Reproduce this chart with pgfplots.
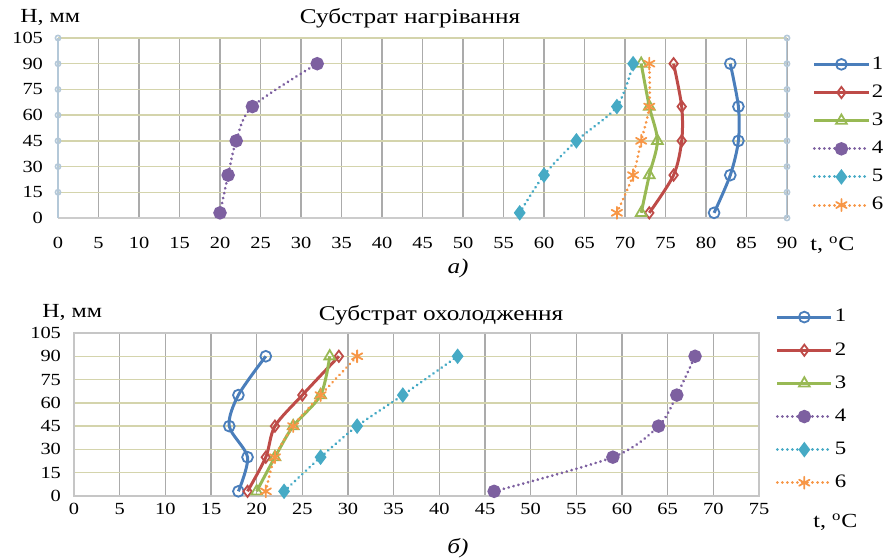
\documentclass[border=0pt]{standalone}
\usepackage{pgfplots}
\pgfplotsset{compat=1.18}
\usepackage{fontspec}
\setmainfont{Liberation Serif}[FakeStretch=1.2]
\definecolor{c1}{HTML}{4A7EBB}
\definecolor{c2}{HTML}{BE4B48}
\definecolor{c3}{HTML}{98B954}
\definecolor{c4}{HTML}{7D60A0}
\definecolor{c5}{HTML}{46AAC5}
\definecolor{c6}{HTML}{F79646}
\definecolor{khaki}{HTML}{D4D4AC}
\definecolor{vgrid}{HTML}{ABABAB}
\definecolor{bluegray}{HTML}{B4C8D8}
\pgfplotsset{
 base/.style={
  scale only axis, anchor=south west,
  ymin=0, ymax=105, ytick={0,15,...,105},
  xmin=0, xtick distance=5,
  grid=major,
  x grid style={color=vgrid, line width=0.8pt},
  y grid style={color=khaki, line width=0.7pt},
  major tick length=0pt,
  tick label style={font=\fontsize{8.5}{10}\selectfont},
  /pgf/number format/assume math mode=true,
  legend cell align=left,
  legend style={draw=none, fill=none, font=\fontsize{9.5}{11.5}\selectfont, anchor=north west, inner sep=0pt, nodes={inner sep=1pt}},
  legend image code/.code={\draw[mark repeat=2,mark phase=2,##1] plot coordinates {(0pt,0pt)(13.5pt,0pt)(27pt,0pt)};},
 },
 s1/.style={c1, line width=1.5pt, smooth, mark=o, mark size=2.7pt, mark options={fill=white, line width=0.9pt}},
 s2/.style={c2, line width=1.5pt, smooth, mark=diamond, mark size=2.8pt, mark options={fill=white, line width=0.9pt}},
 s3/.style={c3, line width=1.5pt, smooth, mark=triangle, mark size=3.1pt, mark options={fill=white, line width=0.9pt}},
 dots/.style={line width=1.5pt, line cap=round, dash pattern=on 0.01pt off 2.5pt},
 s4/.style={c4, dots, smooth, mark=*, mark size=2.6pt, mark options={solid}},
 s5/.style={c5, dots, smooth, mark=diamond*, mark size=2.7pt, mark options={solid}},
 s6/.style={c6, dots, smooth, mark=asterisk, mark size=3pt, mark options={solid, line width=0.9pt}},
}
\begin{document}
\begin{tikzpicture}
\useasboundingbox (0,0) rectangle (442.5pt,280pt);
% ---------- top ----------
\begin{axis}[base,
  at={(29pt,171pt)}, width=364.5pt, height=90pt,
  xmax=90,
  axis x line*=bottom, axis y line*=left,
  x axis line style={draw=gray!40, line width=0.7pt},
  y axis line style={draw=bluegray, line width=0.8pt},
  xticklabel style={yshift=-6pt},
  yticklabel style={xshift=-4pt},
  legend style={at={(1.035,0.91)}, row sep=4.3pt},
]
\addplot[bluegray, line width=0.8pt, mark=o, mark size=1.3pt, forget plot] coordinates {(90,0)(90,15)(90,30)(90,45)(90,60)(90,75)(90,90)(90,105)};
\addplot[bluegray, line width=0.8pt, mark=o, mark size=1.3pt, forget plot] coordinates {(0,15)(0,30)(0,45)(0,60)(0,75)(0,90)(0,105)};
\addplot[s1] coordinates {(81,3)(83,25)(84,45)(84,65)(83,90)};
\addplot[s2] coordinates {(73,3)(76,25)(77,45)(77,65)(76,90)};
\addplot[s3] coordinates {(72,3)(73,25)(74,45)(73,65)(72,90)};
\addplot[s4] coordinates {(20,3)(21,25)(22,45)(24,65)(32,90)};
\addplot[s5] coordinates {(57,3)(60,25)(64,45)(69,65)(71,90)};
\addplot[s6] coordinates {(69,3)(71,25)(72,45)(73,65)(73,90)};
\legend{1,2,3,4,5,6}
\end{axis}
% ---------- bottom ----------
\begin{axis}[base,
  at={(37pt,32pt)}, width=342.5pt, height=81.5pt,
  xmax=75,
  axis line style={draw=gray!45, line width=0.7pt},
  yticklabel style={xshift=-3pt},
  legend style={at={(1.024,1.16)}, row sep=6.8pt},
]
\addplot[s1] coordinates {(18,3)(19,25)(17,45)(18,65)(21,90)};
\addplot[s2] coordinates {(19,3)(21,25)(22,45)(25,65)(29,90)};
\addplot[s3] coordinates {(20,3)(22,25)(24,45)(27,65)(28,90)};
\addplot[s4] coordinates {(46,3)(59,25)(64,45)(66,65)(68,90)};
\addplot[s5] coordinates {(23,3)(27,25)(31,45)(36,65)(42,90)};
\addplot[s6] coordinates {(21,3)(22,25)(24,45)(27,65)(31,90)};
\legend{1,2,3,4,5,6}
\end{axis}
% ---------- texts ----------
\node[font=\fontsize{10.5}{12}\selectfont] at (205pt,271pt) {Субстрат нагрівання};
\node[font=\fontsize{10}{12}\selectfont, anchor=west, inner sep=0pt] at (10pt,271pt) {H, мм};
\node[font=\fontsize{10}{12}\selectfont, anchor=west, inner sep=0pt] at (405pt,157.5pt) {t, \textsuperscript{o}C};
\node[font=\itshape\fontsize{10.5}{12}\selectfont] at (229pt,146pt) {а)};
\node[font=\fontsize{10.5}{12}\selectfont] at (220.5pt,122.5pt) {Субстрат охолодження};
\node[font=\fontsize{10}{12}\selectfont, anchor=west, inner sep=0pt] at (21pt,123.5pt) {H, мм};
\node[font=\fontsize{10}{12}\selectfont, anchor=west, inner sep=0pt] at (406.5pt,19pt) {t, \textsuperscript{o}C};
\node[font=\itshape\fontsize{10.5}{12}\selectfont] at (229pt,6pt) {б)};
\end{tikzpicture}
\end{document}
